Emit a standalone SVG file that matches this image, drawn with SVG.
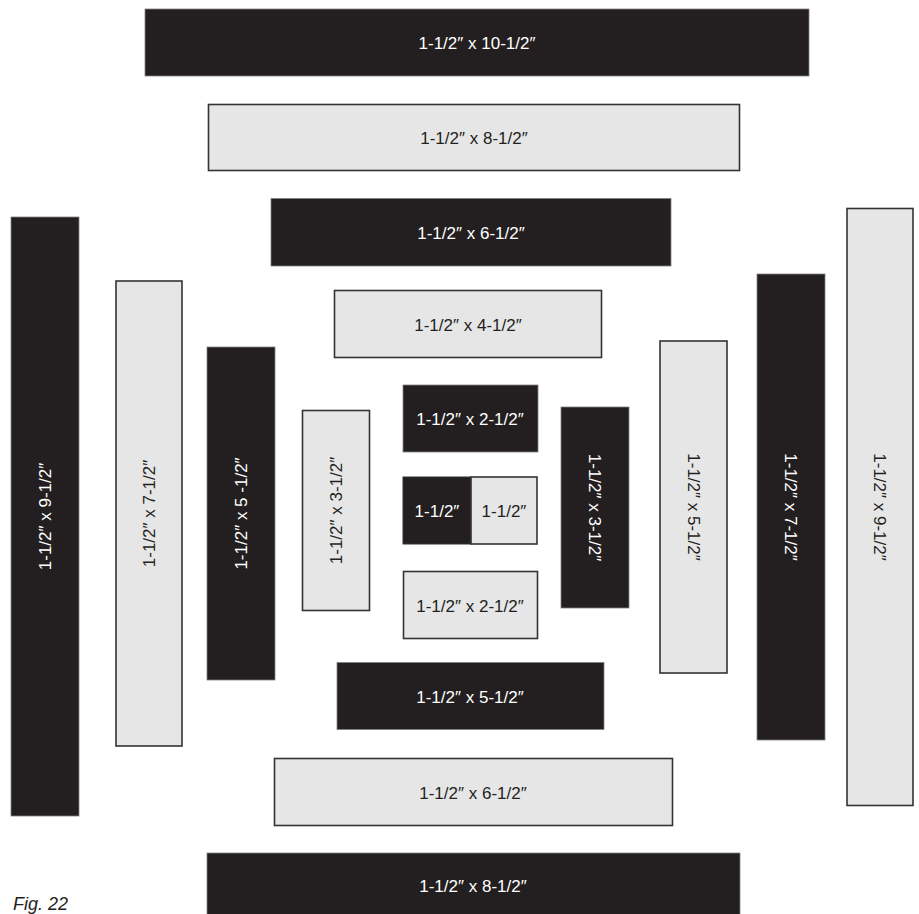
<svg xmlns="http://www.w3.org/2000/svg" width="919" height="914" viewBox="0 0 919 914">
<style>
.dk{fill:#231f20;stroke:#808080;stroke-width:0.8}
.lt{fill:#e6e6e6;stroke:#333333;stroke-width:1.6}
text{font-family:"Liberation Sans",Arial,sans-serif;font-size:17px;text-anchor:middle}
.w{fill:#ffffff}
.b{fill:#231f20}
</style>
<rect width="919" height="914" fill="#ffffff"/>
<g id="top-10-5"><rect class="dk" x="145" y="9" width="664" height="67"/><text class="w" x="477" y="48.5">1-1/2″ x 10-1/2″</text></g>
<g id="top-8-5"><rect class="lt" x="208.5" y="104.5" width="531" height="66"/><text class="b" x="474" y="143.5">1-1/2″ x 8-1/2″</text></g>
<g id="top-6-5"><rect class="dk" x="271" y="198.5" width="400" height="67.5"/><text class="w" x="471" y="238.5">1-1/2″ x 6-1/2″</text></g>
<g id="top-4-5"><rect class="lt" x="334.5" y="290.5" width="267" height="67"/><text class="b" x="468" y="330.5">1-1/2″ x 4-1/2″</text></g>
<g id="c-top-2-5"><rect class="dk" x="403" y="385" width="135" height="67"/><text class="w" x="470" y="424.5">1-1/2″ x 2-1/2″</text></g>
<g id="c-split-dark"><rect class="dk" x="403" y="477" width="68" height="67" style="stroke:#333;stroke-width:1"/><text class="w" x="437" y="516.5">1-1/2″</text></g>
<g id="c-split-light"><rect class="lt" x="471" y="477" width="66" height="67"/><text class="b" x="504" y="516.5">1-1/2″</text></g>
<g id="c-bot-2-5"><rect class="lt" x="403.5" y="571.5" width="134" height="67"/><text class="b" x="470" y="611.5">1-1/2″ x 2-1/2″</text></g>
<g id="bot-5-5"><rect class="dk" x="337" y="662.5" width="267" height="67"/><text class="w" x="470" y="702.5">1-1/2″ x 5-1/2″</text></g>
<g id="bot-6-5"><rect class="lt" x="274.5" y="758.5" width="398" height="67"/><text class="b" x="473" y="798.5">1-1/2″ x 6-1/2″</text></g>
<g id="bot-8-5"><rect class="dk" x="207" y="853" width="533" height="70"/><text class="w" x="473" y="891.5">1-1/2″ x 8-1/2″</text></g>
<g id="left-9-5"><rect class="dk" x="11" y="217" width="68" height="599"/><text class="w" transform="translate(45,516.5) rotate(-90)" y="6">1-1/2″ x  9-1/2″</text></g>
<g id="left-7-5"><rect class="lt" x="116" y="281" width="66" height="465"/><text class="b" transform="translate(149,513.5) rotate(-90)" y="6">1-1/2″ x 7-1/2″</text></g>
<g id="left-5-5"><rect class="dk" x="207" y="347" width="68" height="333"/><text class="w" transform="translate(241,513.5) rotate(-90)" y="6">1-1/2″ x 5 -1/2″</text></g>
<g id="left-3-5"><rect class="lt" x="302.5" y="410.5" width="67" height="200"/><text class="b" transform="translate(336,510.5) rotate(-90)" y="6">1-1/2″ x 3-1/2″</text></g>
<g id="right-3-5"><rect class="dk" x="561" y="407" width="68" height="201"/><text class="w" transform="translate(595,507.5) rotate(90)" y="6">1-1/2″ x 3-1/2″</text></g>
<g id="right-5-5"><rect class="lt" x="660" y="341" width="67" height="332"/><text class="b" transform="translate(693.5,507) rotate(90)" y="6">1-1/2″ x 5-1/2″</text></g>
<g id="right-7-5"><rect class="dk" x="757" y="274" width="68" height="466"/><text class="w" transform="translate(791,507) rotate(90)" y="6">1-1/2″ x 7-1/2″</text></g>
<g id="right-9-5"><rect class="lt" x="847" y="208.5" width="66" height="597"/><text class="b" transform="translate(880,507) rotate(90)" y="6">1-1/2″ x 9-1/2″</text></g>
<text id="caption" x="13" y="910" style="text-anchor:start;font-style:italic;font-size:18px" class="b">Fig. 22</text>
</svg>
